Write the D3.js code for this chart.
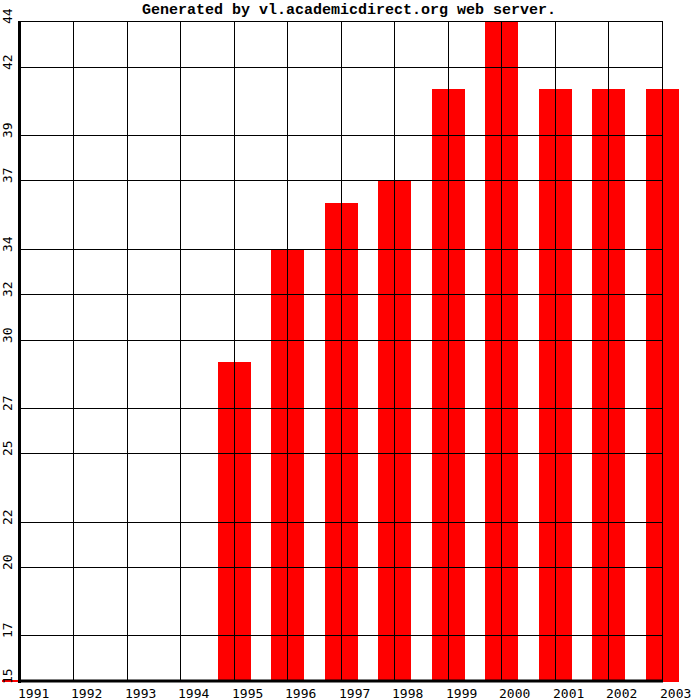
<!DOCTYPE html>
<html>
<head>
<meta charset="utf-8">
<script src="https://cdn.jsdelivr.net/npm/d3@7"></script>
<style>
  html, body { margin: 0; padding: 0; background: #fff; }
  svg { display: block; }
</style>
</head>
<body>
<script>
const years = ["1991","1992","1993","1994","1995","1996","1997","1998","1999","2000","2001","2002","2003"];
const values = [null, null, null, null, 29, 34, 36, 37, 41, 44, 41, 41, 41];
const yTicks = [15, 17, 20, 22, 25, 27, 30, 32, 34, 37, 39, 42, 44];
const title = "Generated by vl.academicdirect.org web server.";

const W = 700, H = 700;
const svg = d3.select("body").append("svg").attr("width", W).attr("height", H);
svg.append("rect").attr("width", W).attr("height", H).attr("fill", "#fff");

const x = d3.scalePoint().domain(years).range([20, 662]);
const y = d3.scaleLinear().domain([15, 44]).range([681, 21]);
const crisp = v => Math.floor(v) + 0.5;

// bars
svg.append("g").selectAll("rect")
  .data(years.map((yr, i) => ({ yr, v: values[i] })).filter(d => d.v != null))
  .join("rect")
  .attr("x", d => Math.floor(x(d.yr)) - 16)
  .attr("width", 33)
  .attr("y", d => Math.round(y(d.v)))
  .attr("height", d => 682 - Math.round(y(d.v)))
  .attr("fill", "#ff0000");

// horizontal gridlines
svg.append("g").selectAll("line")
  .data(yTicks)
  .join("line")
  .attr("x1", 20).attr("x2", 662)
  .attr("y1", d => Math.round(y(d)) + 0.5)
  .attr("y2", d => Math.round(y(d)) + 0.5)
  .attr("stroke", "#000").attr("stroke-width", 1);

// vertical gridlines
svg.append("g").selectAll("line")
  .data(years)
  .join("line")
  .attr("x1", d => crisp(x(d))).attr("x2", d => crisp(x(d)))
  .attr("y1", 21).attr("y2", 681)
  .attr("stroke", "#000").attr("stroke-width", 1);

// thick axes
svg.append("rect").attr("x", 18).attr("y", 21).attr("width", 3).attr("height", 662 - 0).attr("fill", "#000");
svg.append("rect").attr("x", 18).attr("y", 679.5).attr("width", 663 - 18).attr("height", 3).attr("fill", "#000");
// small red mark at baseline left of axis
svg.append("rect").attr("x", 2).attr("y", 680).attr("width", 16).attr("height", 2).attr("fill", "#ff0000");

// y tick labels (rotated)
svg.append("g").selectAll("text")
  .data(yTicks)
  .join("text")
  .attr("transform", d => `translate(12,${Math.round(y(d)) + 3}) rotate(-90)`)
  .attr("text-anchor", "start")
  .attr("font-family", "DejaVu Sans Mono, monospace")
  .attr("font-size", 13)
  .attr("fill", "#000")
  .text(d => d);

// x tick labels
svg.append("g").selectAll("text")
  .data(years)
  .join("text")
  .attr("x", d => Math.floor(x(d)) - 2)
  .attr("y", 698)
  .attr("text-anchor", "start")
  .attr("font-family", "DejaVu Sans Mono, monospace")
  .attr("font-size", 13)
  .attr("fill", "#000")
  .text(d => d);

// title
svg.append("text")
  .attr("x", 349).attr("y", 14)
  .attr("text-anchor", "middle")
  .attr("font-family", "Liberation Mono, monospace")
  .attr("font-weight", "bold")
  .attr("font-size", 15)
  .attr("fill", "#000")
  .text(title);
</script>
</body>
</html>
